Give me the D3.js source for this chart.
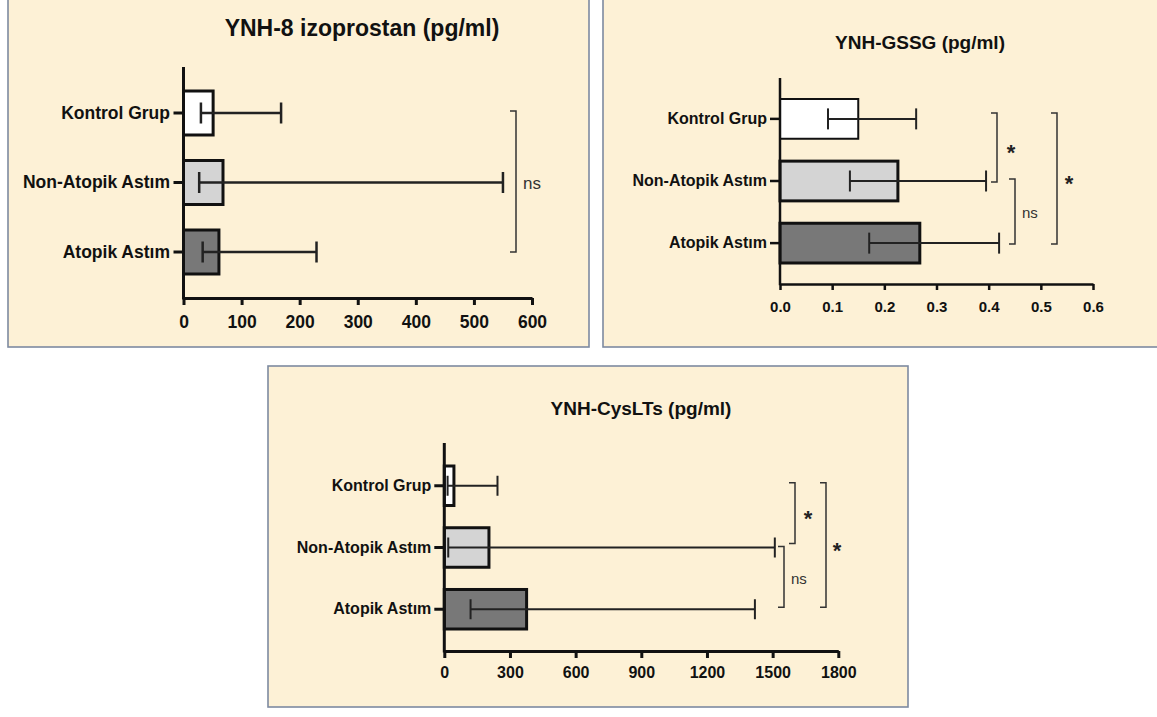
<!DOCTYPE html>
<html><head><meta charset="utf-8">
<script src="https://cdn.jsdelivr.net/npm/d3@7"></script>
<style>
html,body{margin:0;padding:0;background:#fff;}
svg{display:block;font-family:"Liberation Sans",Arial,sans-serif;}
</style></head>
<body>
<svg id="chart" width="1157" height="717"></svg>
<script>
// ---------- DATA ----------
const categories = ["Kontrol Grup", "Non-Atopik Astım", "Atopik Astım"];

const izoTitle = "YNH-8 izoprostan (pg/ml)";
const izoMedian = [51, 68, 61];
const izoLow = [30, 27, 33];
const izoHigh = [168, 550, 229];
const izoTicks = [0, 100, 200, 300, 400, 500, 600];
const izoSig = [{from: 0, to: 2, label: "ns"}];

const gssgTitle = "YNH-GSSG (pg/ml)";
const gssgMedian = [0.15, 0.226, 0.268];
const gssgLow = [0.092, 0.134, 0.171];
const gssgHigh = [0.261, 0.395, 0.42];
const gssgTicks = [0, 0.1, 0.2, 0.3, 0.4, 0.5, 0.6];
const gssgSig = [
  {from: 0, to: 1, label: "*"},
  {from: 1, to: 2, label: "ns"},
  {from: 0, to: 2, label: "*"}
];

const cysTitle = "YNH-CysLTs (pg/ml)";
const cysMedian = [44, 204, 376];
const cysLow = [15, 18, 120];
const cysHigh = [243, 1510, 1419];
const cysTicks = [0, 300, 600, 900, 1200, 1500, 1800];
const cysSig = [
  {from: 0, to: 1, label: "*"},
  {from: 1, to: 2, label: "ns"},
  {from: 0, to: 2, label: "*"}
];

const fills = ["#ffffff", "#d4d4d4", "#787878"];

// ---------- DRAW ----------
const svg = d3.select("#chart");

function panel(cfg) {
  const g = svg.append("g");
  // frame
  g.append("rect")
    .attr("x", cfg.frame[0]).attr("y", cfg.frame[1])
    .attr("width", cfg.frame[2] - cfg.frame[0]).attr("height", cfg.frame[3] - cfg.frame[1])
    .attr("fill", "#fdf1d6").attr("stroke", "#7d8aa0").attr("stroke-width", 1.6);

  const x = d3.scaleLinear().domain([0, d3.max(cfg.ticks)]).range([cfg.x0, cfg.x1]);
  const y = d3.scaleBand().domain(categories).range([cfg.barTop, cfg.barBottom])
    .paddingInner(cfg.pad).paddingOuter(0);
  const bw = y.bandwidth();
  const cy = c => y(c) + bw / 2;

  // title
  g.append("text").attr("x", cfg.titleX).attr("y", cfg.titleY)
    .attr("text-anchor", "middle").attr("font-weight", "bold")
    .attr("font-size", cfg.titleSize).attr("fill", "#111").text(cfg.title);

  // bars
  g.selectAll("rect.bar").data(categories).join("rect").attr("class", "bar")
    .attr("x", x(0))
    .attr("y", d => y(d))
    .attr("width", (d, i) => x(cfg.median[i]) - x(0))
    .attr("height", bw)
    .attr("fill", (d, i) => fills[i])
    .attr("stroke", "#111")
    .attr("stroke-width", (d, i) => cfg.barStroke[i]);

  // error bars
  const eb = g.append("g").attr("stroke", "#222").attr("stroke-width", cfg.errStroke).attr("fill", "none");
  categories.forEach((c, i) => {
    const yc = cy(c);
    eb.append("line").attr("x1", x(cfg.low[i])).attr("x2", x(cfg.high[i])).attr("y1", yc).attr("y2", yc);
    [cfg.low[i], cfg.high[i]].forEach(v => {
      eb.append("line").attr("x1", x(v)).attr("x2", x(v))
        .attr("y1", yc - cfg.cap / 2).attr("y2", yc + cfg.cap / 2);
    });
  });

  // x axis
  const xa = g.append("g").attr("transform", `translate(0,${cfg.axisY})`)
    .call(d3.axisBottom(x).tickValues(cfg.ticks).tickSize(cfg.xTick).tickSizeOuter(0)
      .tickPadding(cfg.xPad).tickFormat(cfg.fmt));
  xa.select(".domain").attr("stroke", "#111").attr("stroke-width", cfg.axisStroke);
  xa.selectAll(".tick line").attr("stroke", "#111").attr("stroke-width", cfg.axisStroke);
  xa.selectAll(".tick text").attr("font-size", cfg.tickSize).attr("font-weight", "bold")
    .attr("fill", "#111").attr("font-family", "'Liberation Sans', Arial, sans-serif");

  // y axis line
  g.append("line").attr("x1", x(0)).attr("x2", x(0)).attr("y1", cfg.yTop).attr("y2", cfg.axisY + cfg.axisStroke / 2)
    .attr("stroke", "#111").attr("stroke-width", cfg.axisStroke);
  const ya = g.append("g").attr("transform", `translate(${x(0)},0)`)
    .call(d3.axisLeft(y).tickSize(cfg.yTick).tickSizeOuter(0).tickPadding(cfg.yPad));
  ya.select(".domain").remove();
  ya.selectAll(".tick line").attr("stroke", "#111").attr("stroke-width", cfg.axisStroke);
  ya.selectAll(".tick text").attr("font-size", cfg.catSize).attr("font-weight", "bold")
    .attr("fill", "#111").attr("font-family", "'Liberation Sans', Arial, sans-serif");

  // significance brackets
  cfg.sig.forEach((s, k) => {
    const bx = cfg.brX[k];
    const t = cy(categories[s.from]) + cfg.brOff[k][0];
    const b = cy(categories[s.to]) + cfg.brOff[k][1];
    g.append("path")
      .attr("d", `M${bx - cfg.brTick},${t}H${bx}V${b}H${bx - cfg.brTick}`)
      .attr("fill", "none").attr("stroke", "#333").attr("stroke-width", 1.5);
    const mid = (t + b) / 2;
    if (s.label === "ns") {
      g.append("text").attr("x", bx + cfg.nsDx).attr("y", mid + cfg.nsSize * 0.45)
        .attr("font-size", cfg.nsSize).attr("fill", "#333").text("ns");
    } else {
      g.append("text").attr("x", bx + cfg.starDx[k]).attr("y", mid + 22 * 0.58)
        .attr("text-anchor", "middle").attr("font-size", 22).attr("font-weight", "bold")
        .attr("fill", "#222").text("*");
    }
  });
}

panel({
  frame: [8, -2, 589, 347],
  title: izoTitle, titleX: 362, titleY: 36, titleSize: 23,
  median: izoMedian, low: izoLow, high: izoHigh, ticks: izoTicks, sig: izoSig,
  fmt: d3.format("d"),
  x0: 183.5, x1: 532, barTop: 91, barBottom: 274, pad: 0.367,
  yTop: 67, axisY: 298, axisStroke: 3, xTick: 7, xPad: 11, tickSize: 17.5,
  yTick: 10, yPad: 3.5, catSize: 17.5,
  barStroke: [3, 3, 3], errStroke: 2.5, cap: 21,
  brX: [516], brOff: [[-2, 0]], brTick: 6, nsDx: 7, nsSize: 17, starDx: [0]
});

panel({
  frame: [603, -2, 1162, 347],
  title: gssgTitle, titleX: 920, titleY: 49, titleSize: 19,
  median: gssgMedian, low: gssgLow, high: gssgHigh, ticks: gssgTicks, sig: gssgSig,
  fmt: d3.format(".1f"),
  x0: 780, x1: 1093, barTop: 99, barBottom: 263, pad: 0.36,
  yTop: 78, axisY: 284, axisStroke: 2.5, xTick: 6, xPad: 11, tickSize: 15,
  yTick: 10, yPad: 3, catSize: 16,
  barStroke: [2, 3, 3], errStroke: 2, cap: 21,
  brX: [997, 1015, 1057], brOff: [[-6, 1], [-2, 1], [-6, 1]], brTick: 6, nsDx: 7, nsSize: 15,
  starDx: [14, 0, 12]
});

panel({
  frame: [268, 366, 908, 707],
  title: cysTitle, titleX: 641, titleY: 415, titleSize: 19,
  median: cysMedian, low: cysLow, high: cysHigh, ticks: cysTicks, sig: cysSig,
  fmt: d3.format("d"),
  x0: 444.3, x1: 838.3, barTop: 466, barBottom: 629, pad: 0.36,
  yTop: 443, axisY: 651, axisStroke: 3, xTick: 7, xPad: 9, tickSize: 16,
  yTick: 10, yPad: 3, catSize: 16,
  barStroke: [3, 3, 3], errStroke: 2, cap: 20,
  brX: [795, 784, 826], brOff: [[-3, -4], [-1, -2], [-3, -2]], brTick: 6, nsDx: 7, nsSize: 15,
  starDx: [13, 0, 11]
});
</script>
</body></html>
